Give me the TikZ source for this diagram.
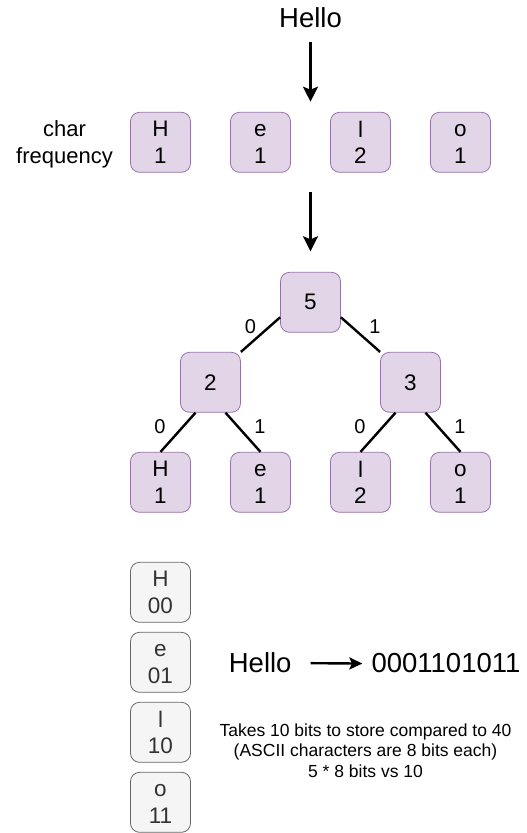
\documentclass[tikz,border=0pt]{standalone}
\usepackage{fontspec}
\setmainfont{Liberation Sans}
\usetikzlibrary{arrows.meta,calc}
\definecolor{pfill}{HTML}{E1D5E7}
\definecolor{pstroke}{HTML}{9673A6}
\definecolor{gfill}{HTML}{F5F5F5}
\definecolor{gstroke}{HTML}{666666}
\definecolor{gtext}{HTML}{333333}
\newcommand\twolines[2]{\vphantom{H}#1\\\smash{#2}}
\begin{document}
\begin{tikzpicture}[x=1pt,y=-1pt,
  pbox/.style={draw=pstroke, fill=pfill, rounded corners=9pt, line width=0.8pt,
    minimum width=60pt, minimum height=60pt, inner sep=0pt, align=center,
    font=\fontsize{22.5}{26.7}\selectfont},
  gbox/.style={pbox, draw=gstroke, fill=gfill, text=gtext},
  treeedge/.style={line width=2.4pt},
  arr/.style={line width=2.4pt, -{Stealth[length=15pt,width=15pt,inset=3pt]}},
  smallarr/.style={line width=2.4pt, -{Stealth[length=13pt,width=12pt,inset=2.5pt]}},
  lbl/.style={inner sep=0pt, font=\fontsize{20}{24}\selectfont},
  big/.style={inner sep=0pt, font=\fontsize{27.5}{33}\selectfont},
]
\useasboundingbox (0,0) rectangle (527,833);

% top
\node[big, anchor=base] (hello) at (310.5,27.8) {Hello};
\coordinate (a1end) at (310.5,101.7);
\draw[arr] ([yshift=-14pt]hello.south) -- (a1end);

\node[inner sep=0pt, align=center, font=\fontsize{22}{26.7}\selectfont] (cf) at (64.5,142.3) {\twolines{char}{frequency}};
\node[pbox] (fH) at (160.5,142.3) {\twolines{H}{1}};
\node[pbox] (fe) at (260.5,142.3) {\twolines{e}{1}};
\node[pbox] (fl) at (360.5,142.3) {\twolines{l}{2}};
\node[pbox] (fo) at (460.5,142.3) {\twolines{o}{1}};

% tree
\node[pbox] (root) at (310.5,302.3) {5};
\coordinate (a2start) at (310.5,192.3);
\draw[arr] (a2start) -- ([yshift=20.6pt]root.north);

\node[pbox] (n2) at (210.5,382.3) {2};
\node[pbox] (n3) at (410.5,382.3) {3};
\node[pbox] (tH) at (160.5,482.3) {\twolines{H}{1}};
\node[pbox] (te) at (260.5,482.3) {\twolines{e}{1}};
\node[pbox] (tl) at (360.5,482.3) {\twolines{l}{2}};
\node[pbox] (to) at (460.5,482.3) {\twolines{o}{1}};

\draw[treeedge] ($(root.west)+(0,15)$) -- (n2.north east);
\draw[treeedge] ($(root.east)+(0,15)$) -- (n3.north west);
\draw[treeedge] ($(n2.south)+(-15,0)$) -- (tH.north);
\draw[treeedge] ($(n2.south)+(15,0)$) -- (te.north);
\draw[treeedge] ($(n3.south)+(-15,0)$) -- (tl.north);
\draw[treeedge] ($(n3.south)+(15,0)$) -- (to.north);

\node[lbl] (l0a) at (250.5,326.7) {0};
\node[lbl] (l1a) at (375,326.7) {1};
\node[lbl] (l0b) at (160,426.7) {0};
\node[lbl] (l1b) at (260,426.7) {1};
\node[lbl] (l0c) at (360,426.7) {0};
\node[lbl] (l1c) at (460,426.7) {1};

% codes
\node[gbox] (cH) at (160.5,592.3) {\twolines{H}{00}};
\node[gbox] (ce) at (160.5,662.3) {\twolines{e}{01}};
\node[gbox] (cl) at (160.5,732.3) {\twolines{l}{10}};
\node[gbox] (co) at (160.5,802.3) {\twolines{o}{11}};

\node[big, anchor=base] (hello2) at (260.2,672.5) {Hello};
\node[big, anchor=base] (bin) at (446,672.5) {0001101011};
\draw[smallarr] ([xshift=19pt,yshift=-0.5pt]hello2.east) -- ([xshift=-9pt,yshift=-0.5pt]bin.west);

\node[inner sep=0pt, align=center, font=\fontsize{17.5}{20.6}\selectfont] (note) at (365.5,750.6)
  {Takes 10 bits to store compared to 40\\(ASCII characters are 8 bits each)\\5 * 8 bits vs 10};
\end{tikzpicture}
\end{document}
